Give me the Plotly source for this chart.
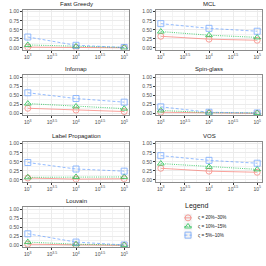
import plotly.graph_objects as go

# ---------------- data ----------------
network_sizes = [1000, 10000, 100000]
methods = ["Fast Greedy", "MCL", "Infomap", "Spin-glass",
           "Label Propagation", "VOS", "Louvain"]
series_names = ["ς = 20%–30%", "ς = 10%–15%", "ς = 5%–10%"]

# each: [20-30%, 10-15%, 5-10%]
fast_greedy = [[0.02, 0.01, 0.00], [0.08, 0.04, 0.01], [0.30, 0.07, 0.01]]
mcl = [[0.32, 0.24, 0.21], [0.45, 0.35, 0.29], [0.67, 0.54, 0.46]]
infomap = [[0.14, 0.09, 0.05], [0.27, 0.19, 0.13], [0.57, 0.41, 0.31]]
spin_glass = [[0.03, 0.01, 0.00], [0.08, 0.02, 0.01], [0.18, 0.03, 0.01]]
label_propagation = [[0.05, 0.02, 0.03], [0.07, 0.08, 0.08], [0.48, 0.30, 0.24]]
vos = [[0.32, 0.24, 0.21], [0.45, 0.36, 0.29], [0.67, 0.54, 0.46]]
louvain = [[0.03, 0.01, 0.00], [0.09, 0.03, 0.01], [0.32, 0.09, 0.01]]

panel_data = [fast_greedy, mcl, infomap, spin_glass, label_propagation, vos, louvain]

y_ticks = [0, 0.25, 0.5, 0.75, 1.0]
y_ticklabels = ["0.00", "0.25", "0.50", "0.75", "1.00"]
x_ticks = [1000, 10 ** 3.5, 10000, 10 ** 4.5, 100000]
x_ticklabels = ["10<sup>3</sup>", "10<sup>3.5</sup>", "10<sup>4</sup>",
                "10<sup>4.5</sup>", "10<sup>5</sup>"]

# ---------------- style ----------------
colors = ["#F8766D", "#00BA38", "#619CFF"]
symbols = ["circle-open", "triangle-up-open", "square-open"]
dashes = ["solid", "1px,1.2px", "3px,2px"]

W = H = 266
col_px = [(23, 129), (156, 262)]
row_px = [(9, 49), (75, 115), (142, 182), (208, 248)]
FONT = "Liberation Sans"

fig = go.Figure()
annotations = []
shapes = []
for i, (name, data) in enumerate(zip(methods, panel_data)):
    r, c = divmod(i, 2)
    ax = "" if i == 0 else str(i + 1)
    x0, x1 = col_px[c]
    y0, y1 = row_px[r]
    common = dict(
        showgrid=True, gridcolor="#EBEBEB", gridwidth=0.6,
        showline=True, mirror=True, linecolor="#8C8C8C", linewidth=0.8,
        ticks="outside", ticklen=2, tickcolor="#333333", tickwidth=0.6,
        tickfont=dict(size=5, color="#4D4D4D", family=FONT),
        zeroline=False, fixedrange=True,
    )
    fig.layout["xaxis" + ax] = dict(
        domain=[x0 / W, x1 / W], anchor="y" + ax, type="log",
        range=[2.9, 5.1], tickmode="array", tickvals=x_ticks, ticktext=x_ticklabels,
        minor=dict(tickmode="array",
                   tickvals=[10 ** 3.25, 10 ** 3.75, 10 ** 4.25, 10 ** 4.75],
                   showgrid=True, gridcolor="#F3F3F3", gridwidth=0.4, ticks=""),
        **common,
    )
    fig.layout["yaxis" + ax] = dict(
        domain=[1 - y1 / H, 1 - y0 / H], anchor="x" + ax,
        range=[-0.05, 1.05], tickmode="array", tickvals=y_ticks, ticktext=y_ticklabels,
        minor=dict(tickmode="array", tickvals=[0.125, 0.375, 0.625, 0.875],
                   showgrid=True, gridcolor="#F3F3F3", gridwidth=0.4, ticks=""),
        **common,
    )
    annotations.append(dict(
        text=name, x=(x0 + x1) / 2 / W, y=1 - (y0 - 1) / H, xref="paper", yref="paper",
        xanchor="center", yanchor="bottom", showarrow=False,
        font=dict(size=6, color="#1A1A1A", family=FONT)))
    for k in range(3):
        fig.add_trace(go.Scatter(
            x=network_sizes, y=data[k], xaxis="x" + ax, yaxis="y" + ax,
            mode="lines+markers", name=series_names[k], showlegend=False,
            line=dict(color=colors[k], width=0.9, dash=dashes[k]),
            marker=dict(symbol=symbols[k], size=6, color=colors[k],
                        line=dict(width=0.9, color=colors[k])),
            opacity=0.75,
        ))

# ---------------- manual legend (layout only) ----------------
LX0, LX1, LY0, LY1 = 178, 240, 204, 244
fig.layout["xaxis8"] = dict(domain=[LX0 / W, LX1 / W], anchor="y8", range=[LX0, LX1],
                            visible=False, fixedrange=True)
fig.layout["yaxis8"] = dict(domain=[1 - LY1 / H, 1 - LY0 / H], anchor="x8",
                            range=[LY1, LY0], visible=False, fixedrange=True)
key_cx, key_half = 188, 4.3
key_cy = [218.5, 227.2, 235.9]
annotations.append(dict(text="Legend", x=183, y=213, xref="x8", yref="y8",
                        xanchor="left", yanchor="bottom", showarrow=False,
                        font=dict(size=7, color="#1A1A1A", family=FONT)))
for k in range(3):
    cy = key_cy[k]
    shapes.append(dict(type="rect", xref="x8", yref="y8",
                       x0=key_cx - key_half, x1=key_cx + key_half,
                       y0=cy - key_half, y1=cy + key_half,
                       fillcolor="#F2F2F2", line=dict(width=0.6, color="white"),
                       layer="below"))
    fig.add_trace(go.Scatter(
        x=[key_cx - 3.6, key_cx, key_cx + 3.6], y=[cy, cy, cy], xaxis="x8", yaxis="y8",
        mode="lines", showlegend=False, hoverinfo="skip",
        line=dict(color=colors[k], width=0.9, dash=dashes[k]), opacity=0.75))
    fig.add_trace(go.Scatter(
        x=[key_cx], y=[cy], xaxis="x8", yaxis="y8",
        mode="markers", showlegend=False, hoverinfo="skip",
        marker=dict(symbol=symbols[k], size=6, color=colors[k],
                    line=dict(width=0.9, color=colors[k])), opacity=0.75))
    annotations.append(dict(text=series_names[k], x=195.5, y=cy, xref="x8", yref="y8",
                            xanchor="left", yanchor="middle", showarrow=False,
                            font=dict(size=4.6, color="#1A1A1A", family=FONT)))

fig.update_layout(
    width=W, height=H, autosize=False,
    margin=dict(l=0, r=0, t=0, b=0),
    paper_bgcolor="white", plot_bgcolor="white",
    annotations=annotations, shapes=shapes,
    showlegend=False,
    font=dict(family=FONT),
)

fig.write_html("out.html", config={"displayModeBar": False},
               post_script="document.body.style.margin='0';")
